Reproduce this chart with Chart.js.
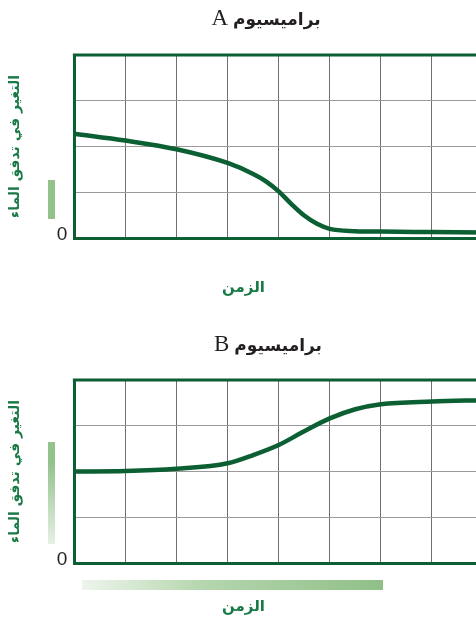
<!DOCTYPE html>
<html>
<head>
<meta charset="utf-8">
<script src="https://cdn.jsdelivr.net/npm/chart.js@4.4.0/dist/chart.umd.min.js"></script>
<style>
  html, body { margin: 0; padding: 0; background: #fff; overflow: hidden; width: 476px; height: 621px; position: relative; }
  canvas { position: absolute; left: 0; }
  #chartA { top: 0; }
  #chartB { top: 326px; }
  .bar { position: absolute; }
</style>
</head>
<body>
<canvas id="chartA" width="520" height="310"></canvas>
<canvas id="chartB" width="534" height="295"></canvas>
<div class="bar" style="left:48px;top:180px;width:7px;height:39px;background:#93c28b"></div>
<div class="bar" style="left:48px;top:442px;width:7px;height:102px;background:linear-gradient(#93c28b 20%,#e6f1e4)"></div>
<div class="bar" style="left:82px;top:580px;width:301px;height:10px;background:linear-gradient(90deg,#eef5ec,#b5d6ae 40%,#90bf88)"></div>
<script>
// values (x in grid steps)
const timeA = [0, 1, 2, 3, 3.5, 3.75, 4, 4.25, 4.5, 4.75, 5, 5.5, 6, 7, 8];
const flowA = [2.28, 2.13, 1.94, 1.64, 1.40, 1.24, 1.02, 0.74, 0.49, 0.31, 0.20, 0.15, 0.14, 0.13, 0.12];
const timeB = [0, 1, 2, 3, 3.5, 4, 4.5, 5, 5.5, 6, 7, 8];
const flowB = [2.00, 2.01, 2.06, 2.18, 2.36, 2.58, 2.88, 3.16, 3.36, 3.47, 3.53, 3.56];
const yTickLabels = ['0', '', '', '', ''];

const GREEN = '#0b5f33';
const TEXT_GREEN = '#1a7a46';
const yTitle = 'التغير في تدفق الماء';
const xTitle = 'الزمن';
const word = 'براميسيوم';

// top border + mixed-font panel title
const panelPlugin = {
  id: 'panel',
  afterDraw(chart, args, opts) {
    const { ctx, chartArea: a } = chart;
    ctx.save();
    ctx.strokeStyle = GREEN;
    ctx.lineWidth = 3;
    ctx.beginPath();
    ctx.moveTo(a.left - 1.5, a.top);
    ctx.lineTo(a.right, a.top);
    ctx.stroke();

    ctx.fillStyle = '#231f20';
    ctx.textBaseline = 'alphabetic';
    ctx.font = 'bold 17px "DejaVu Sans"';
    const wWord = ctx.measureText(word).width;
    ctx.font = '23px "Liberation Serif"';
    const wLetter = ctx.measureText(opts.letter).width;
    const gap = 5;
    const x0 = opts.cx - (wLetter + gap + wWord) / 2;
    ctx.fillText(opts.letter, x0, opts.y);
    ctx.font = 'bold 17px "DejaVu Sans"';
    ctx.fillText(word, x0 + wLetter + gap, opts.y);
    ctx.restore();
  }
};

function makeChart(id, times, values, letter, cx, pad, sub) {
  return new Chart(document.getElementById(id), {
    type: 'line',
    data: {
      datasets: [{
        data: times.map((t, i) => ({ x: t, y: values[i] })),
        borderColor: GREEN,
        borderWidth: 4.5,
        pointRadius: 0,
        fill: false,
        cubicInterpolationMode: 'monotone'
      }]
    },
    options: {
      responsive: false,
      animation: false,
      events: [],
      layout: { padding: pad },
      plugins: {
        legend: { display: false },
        tooltip: { enabled: false },
        title: { display: false },
        subtitle: {
          display: true,
          position: 'bottom',
          text: xTitle,
          color: TEXT_GREEN,
          font: { family: 'DejaVu Sans', weight: 'bold', size: 15 },
          padding: sub
        },
        panel: { letter: letter, cx: cx, y: 25 }
      },
      scales: {
        x: {
          type: 'linear',
          min: 0,
          max: 8,
          ticks: { display: false, stepSize: 1 },
          grid: { color: '#6f6f6f', lineWidth: 1, drawTicks: false },
          border: { color: GREEN, width: 3 }
        },
        y: {
          min: 0,
          max: 4,
          ticks: {
            stepSize: 1,
            padding: 7,
            labelOffset: -3,
            color: '#231f20',
            font: { family: 'Liberation Sans', size: 19 },
            callback: (v) => yTickLabels[v]
          },
          grid: { color: '#9a9a9a', lineWidth: 1, drawTicks: false },
          border: { color: GREEN, width: 3 },
          title: {
            display: true,
            text: yTitle,
            color: TEXT_GREEN,
            font: { family: 'DejaVu Sans', weight: 'bold', size: 14 },
            padding: { top: 3, bottom: 26 }
          }
        }
      }
    },
    plugins: [panelPlugin]
  });
}

makeChart('chartA', timeA, flowA, 'A', 266, { top: 55, left: 4, right: 37, bottom: 0 }, { top: 41, bottom: 13 });
makeChart('chartB', timeB, flowB, 'B', 268, { top: 54, left: 4, right: 51, bottom: 0 }, { top: 35, bottom: 5 });
</script>
</body>
</html>
